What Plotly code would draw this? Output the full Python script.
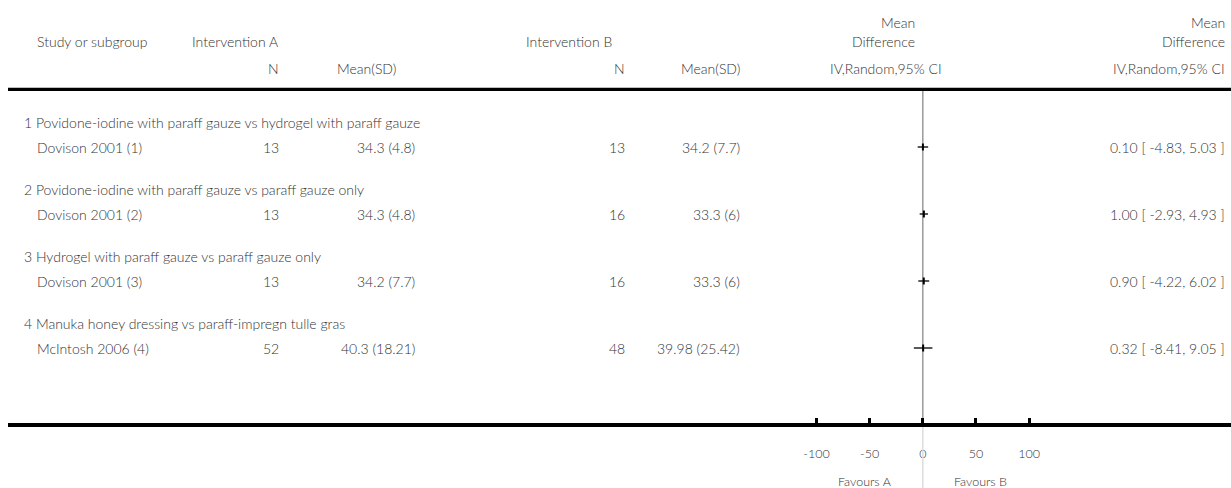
import plotly.graph_objects as go

# ---- data ----
subgroups = [
    "1 Povidone-iodine with paraff gauze vs hydrogel with paraff gauze",
    "2 Povidone-iodine with paraff gauze vs paraff gauze only",
    "3 Hydrogel with paraff gauze vs paraff gauze only",
    "4 Manuka honey dressing vs paraff-impregn tulle gras",
]
studies = ["Dovison 2001 (1)", "Dovison 2001 (2)", "Dovison 2001 (3)", "McIntosh 2006 (4)"]
n_a = [13, 13, 13, 52]
meansd_a = ["34.3 (4.8)", "34.3 (4.8)", "34.2 (7.7)", "40.3 (18.21)"]
n_b = [13, 16, 16, 48]
meansd_b = ["34.2 (7.7)", "33.3 (6)", "33.3 (6)", "39.98 (25.42)"]
md = [0.10, 1.00, 0.90, 0.32]
ci_lo = [-4.83, -2.93, -4.22, -8.41]
ci_hi = [5.03, 4.93, 6.02, 9.05]
tick_vals = [-100, -50, 0, 50, 100]
tick_text = ["-100", "-50", "0", "50", "100"]

# ---- layout geometry (pixels) ----
W, H = 1231, 488
ML, MR, MT, MB = 8, 0, 0, 65
PLOT_BOTTOM = H - MB  # 423
ZERO_PX = 922.8
SCALE = 1.063  # px per unit
FONT = "Lato"
TXT = "#333333"
FS = 14

x_range = [(ML - ZERO_PX) / SCALE, (W - MR - ZERO_PX) / SCALE]

def px(xp):
    return (xp - ML) / (W - ML - MR)

def py_paper(yp):
    return (PLOT_BOTTOM - yp) / (PLOT_BOTTOM - MT)

ROW0 = 147.0
PERIOD = 67.0
rows_y = [ROW0 + i * PERIOD for i in range(len(studies))]
sub_y = [y - 25 for y in rows_y]

fig = go.Figure()

fig.add_trace(go.Scatter(
    x=md, y=rows_y, mode="markers",
    marker=dict(symbol="line-ns-open", size=5, color="black", line=dict(width=2, color="black")),
    error_x=dict(type="data", symmetric=False,
                 array=[h - m for h, m in zip(ci_hi, md)],
                 arrayminus=[m - l for m, l in zip(md, ci_lo)],
                 width=0, thickness=1.3, color="black"),
    showlegend=False, hoverinfo="skip", cliponaxis=False,
))

ann = []

def add(text, x, y, xanchor="left", yref="y", size=FS):
    ann.append(dict(text=text, x=px(x), xref="paper", y=y, yref=yref,
                    xanchor=xanchor, yanchor="middle", showarrow=False,
                    font=dict(family=FONT, size=size, color=TXT, weight=300)))

# headers
add("Study or subgroup", 35, 41)
add("Intervention A", 190, 41)
add("N", 281, 68, "right")
add("Mean(SD)", 398, 68, "right")
add("Intervention B", 524, 41)
add("N", 627, 68, "right")
add("Mean(SD)", 742, 68, "right")
add("Mean", 917, 22, "right")
add("Difference", 917, 41, "right")
add("IV,Random,95% CI", 886, 68, "center")
add("Mean", 1227, 22, "right")
add("Difference", 1227, 41, "right")
add("IV,Random,95% CI", 1227, 68, "right")

for i in range(len(studies)):
    add(subgroups[i], 22, sub_y[i])
    add(studies[i], 35, rows_y[i])
    add(str(n_a[i]), 281, rows_y[i], "right")
    add(meansd_a[i], 417, rows_y[i], "right")
    add(str(n_b[i]), 627, rows_y[i], "right")
    add(meansd_b[i], 742, rows_y[i], "right")
    add(f"{md[i]:.2f} [ {ci_lo[i]:.2f}, {ci_hi[i]:.2f} ]", 1227, rows_y[i], "right")

add("Favours A", 865, py_paper(481), "center", yref="paper", size=12.5)
add("Favours B", 980, py_paper(481), "center", yref="paper", size=12.5)

shapes = [
    # top rule
    dict(type="line", xref="paper", x0=0, x1=1, yref="y", y0=89.3, y1=89.3,
         line=dict(color="black", width=3.3)),
    # zero line (inside plot)
    dict(type="line", xref="x", x0=0, x1=0, yref="y", y0=91, y1=PLOT_BOTTOM,
         line=dict(color="#9a9a9a", width=1.5), layer="below"),
    # zero line (below axis)
    dict(type="line", xref="x", x0=0, x1=0, yref="paper", y0=py_paper(427), y1=py_paper(488),
         line=dict(color="#dddddd", width=1.5)),
]

fig.update_layout(
    width=W, height=H,
    margin=dict(l=ML, r=MR, t=MT, b=MB, pad=0),
    paper_bgcolor="white", plot_bgcolor="white",
    annotations=ann, shapes=shapes,
    xaxis=dict(range=x_range, showgrid=False, zeroline=False,
               showline=True, linecolor="black", linewidth=4,
               ticks="inside", ticklen=5, tickwidth=3, tickcolor="black",
               tickvals=tick_vals, ticktext=tick_text,
               tickfont=dict(family=FONT, size=12.5, color=TXT, weight=300),
               ticklabelstandoff=16, fixedrange=True),
    yaxis=dict(range=[PLOT_BOTTOM, MT], visible=False, showgrid=False,
               zeroline=False, fixedrange=True),
    font=dict(family=FONT, color=TXT),
)

fig.write_html(
    "out.html",
    config={"displayModeBar": False},
    post_script="document.body.style.margin='0';document.body.style.overflow='hidden';",
)
